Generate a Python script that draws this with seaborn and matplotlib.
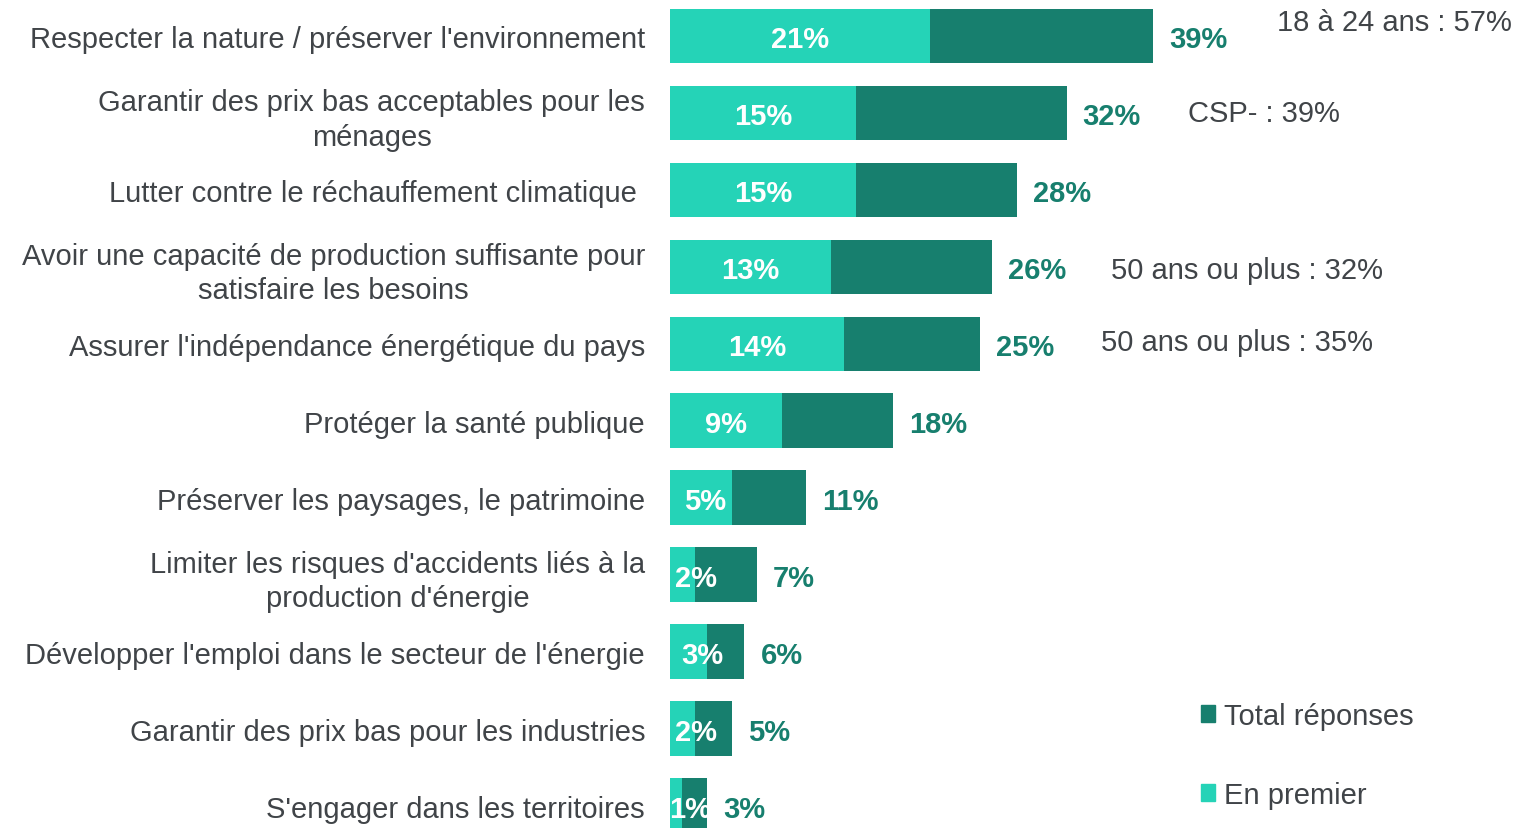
import matplotlib
matplotlib.use("Agg")
import matplotlib.pyplot as plt
import seaborn as sns
import pandas as pd
from matplotlib.patches import Patch

criteres = [
    "Respecter la nature / préserver l'environnement",
    "Garantir des prix bas acceptables pour les\nménages",
    "Lutter contre le réchauffement climatique ",
    "Avoir une capacité de production suffisante pour\nsatisfaire les besoins",
    "Assurer l'indépendance énergétique du pays",
    "Protéger la santé publique",
    "Préserver les paysages, le patrimoine",
    "Limiter les risques d'accidents liés à la\nproduction d'énergie",
    "Développer l'emploi dans le secteur de l'énergie",
    "Garantir des prix bas pour les industries",
    "S'engager dans les territoires",
]
total_reponses = [39, 32, 28, 26, 25, 18, 11, 7, 6, 5, 3]
en_premier = [21, 15, 15, 13, 14, 9, 5, 2, 3, 2, 1]

notes = ["18 à 24 ans : 57%", "CSP- : 39%", "50 ans ou plus : 32%", "50 ans ou plus : 35%"]
notes_rang = [-0.22, 0.96, 3.0, 3.94]
notes_x = [49.0, 41.8, 35.6, 34.8]

FONCE = "#177F6E"
CLAIR = "#25D3B7"
GRIS = "#404448"
FS = 21

df = pd.DataFrame({"critere": criteres, "total": total_reponses, "premier": en_premier})

plt.rcParams["font.family"] = ["Liberation Sans", "DejaVu Sans"]

fig = plt.figure(figsize=(15.19, 8.29), dpi=100)
ax = fig.add_axes([670 / 1519, 0, 849 / 1519, 1])

sns.barplot(data=df, x="total", y="critere", color=FONCE, width=0.71,
            saturation=1, ax=ax, orient="h")
sns.barplot(data=df, x="premier", y="critere", color=CLAIR, width=0.71,
            saturation=1, ax=ax, orient="h")

ax.set_xlim(0, 68.5)
ax.set_ylim(10.29, -0.48)

for i, (t, p) in enumerate(zip(total_reponses, en_premier)):
    ax.text(t + 1.3, i, f"{t}%", color=FONCE, fontsize=FS, fontweight="bold",
            va="center_baseline", ha="left")
    # petites barres : l'étiquette est décalée vers la droite
    xp = max(p / 2, min(p / 2 + 1.1, 2.8))
    ax.text(xp, i, f"{p}%", color="white", fontsize=FS, fontweight="bold",
            va="center_baseline", ha="center")

for txt, r, xx in zip(notes, notes_rang, notes_x):
    ax.text(xx, r, txt, color=GRIS, fontsize=FS, va="center_baseline", ha="left")

ax.set_xlabel("")
ax.set_ylabel("")
ax.set_xticks([])
ax.tick_params(axis="y", length=0, pad=18)
for lab in ax.get_yticklabels():
    lab.set_fontsize(FS)
    lab.set_color(GRIS)
    lab.set_multialignment("center")
    lab.set_linespacing(1.3)
for s in ax.spines.values():
    s.set_visible(False)

handles = [Patch(color=FONCE, label="Total réponses"),
           Patch(color=CLAIR, label="En premier")]
fig.legend(handles=handles, loc="upper left", bbox_to_anchor=(1195 / 1519, 1 - 697 / 829),
           frameon=False, fontsize=FS, handlelength=0.5, handleheight=0.5,
           handletextpad=0.3, labelspacing=1.75, labelcolor=GRIS,
           borderaxespad=0, borderpad=0.2)

fig.savefig("out.png", dpi=100)
